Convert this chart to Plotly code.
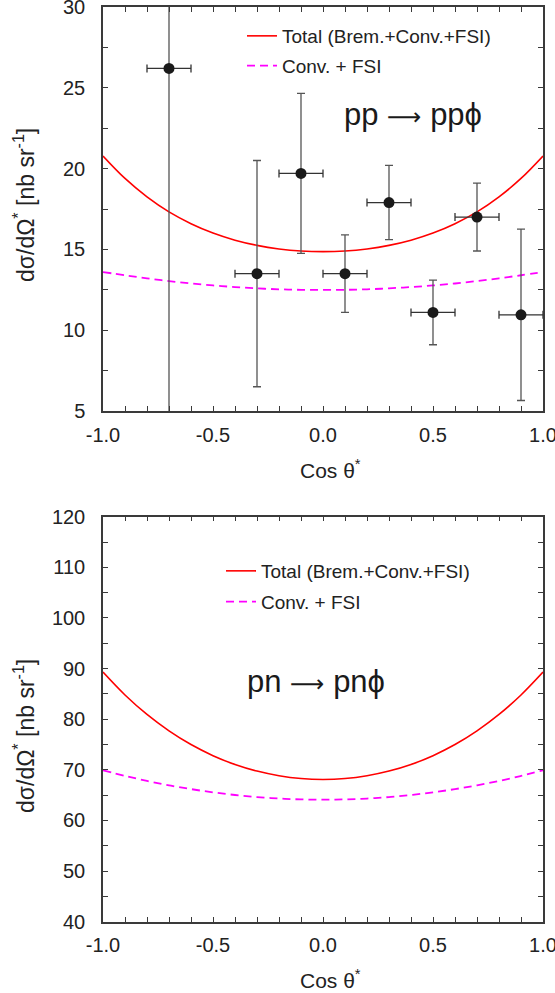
import plotly.graph_objects as go

# ---- data ----
cos_grid = [-1.0, -0.9, -0.8, -0.7, -0.6, -0.5, -0.4, -0.3, -0.2, -0.1, 0.0,
            0.1, 0.2, 0.3, 0.4, 0.5, 0.6, 0.7, 0.8, 0.9, 1.0]

pp_total = [20.78, 19.39, 18.25, 17.32, 16.59, 16.01, 15.57, 15.25, 15.03, 14.90, 14.86,
            14.90, 15.03, 15.25, 15.57, 16.01, 16.59, 17.32, 18.25, 19.39, 20.78]
pp_conv = [13.60, 13.40, 13.21, 13.04, 12.89, 12.77, 12.67, 12.59, 12.53, 12.50, 12.49,
           12.50, 12.53, 12.59, 12.67, 12.77, 12.89, 13.04, 13.21, 13.40, 13.60]

pn_total = [89.30, 84.78, 80.93, 77.69, 74.99, 72.80, 71.06, 69.75, 68.83, 68.28, 68.10,
            68.28, 68.83, 69.75, 71.06, 72.80, 74.99, 77.69, 80.93, 84.78, 89.30]
pn_conv = [69.90, 68.80, 67.81, 66.94, 66.19, 65.55, 65.03, 64.62, 64.33, 64.16, 64.10,
           64.16, 64.33, 64.62, 65.03, 65.55, 66.19, 66.94, 67.81, 68.80, 69.90]

exp_x = [-0.7, -0.3, -0.1, 0.1, 0.3, 0.5, 0.7, 0.9]
exp_y = [26.2, 13.5, 19.7, 13.5, 17.9, 11.1, 17.0, 10.95]
exp_yerr = [25.0, 7.0, 4.95, 2.4, 2.3, 2.0, 2.1, 5.3]
exp_xerr = [0.1, 0.1, 0.1, 0.1, 0.1, 0.1, 0.1, 0.1]

x_tickvals = [-1.0, -0.5, 0.0, 0.5, 1.0]
x_ticktext = ["-1.0", "-0.5", "0.0", "0.5", "1.0"]

legend_names = ["Total (Brem.+Conv.+FSI)", "Conv. + FSI"]

FONT = "Liberation Sans, Arial, sans-serif"
RED = "#ff0000"
MAG = "#ff00ff"
AXC = "#3a3a3a"

fig = go.Figure()

# top panel
fig.add_trace(go.Scatter(x=cos_grid, y=pp_total, mode="lines", name=legend_names[0],
                         line=dict(color=RED, width=1.6, shape="spline"),
                         xaxis="x", yaxis="y", legend="legend", legendgroup="a"))
fig.add_trace(go.Scatter(x=cos_grid, y=pp_conv, mode="lines", name=legend_names[1],
                         line=dict(color=MAG, width=1.8, dash="8px,5px", shape="spline"),
                         xaxis="x", yaxis="y", legend="legend", legendgroup="b"))
fig.add_trace(go.Scatter(x=exp_x, y=exp_y, mode="markers", showlegend=False,
                         marker=dict(color="#1a1a1a", size=11),
                         error_y=dict(type="data", array=exp_yerr, color="#555555",
                                      thickness=1.3, width=4),
                         error_x=dict(type="data", array=exp_xerr, color="#333333",
                                      thickness=1.3, width=4),
                         xaxis="x", yaxis="y"))

# bottom panel
fig.add_trace(go.Scatter(x=cos_grid, y=pn_total, mode="lines", name=legend_names[0],
                         line=dict(color=RED, width=1.6, shape="spline"),
                         xaxis="x2", yaxis="y2", legend="legend2", legendgroup="c"))
fig.add_trace(go.Scatter(x=cos_grid, y=pn_conv, mode="lines", name=legend_names[1],
                         line=dict(color=MAG, width=1.8, dash="8px,5px", shape="spline"),
                         xaxis="x2", yaxis="y2", legend="legend2", legendgroup="d"))

W, H = 555, 993
xdom = [103 / W, 543 / W]
top_dom = [1 - 411 / H, 1 - 7 / H]
bot_dom = [1 - 921.7 / H, 1 - 516.7 / H]

tickfont = dict(family=FONT, size=20, color="#222222")


def xax(domain_anchor):
    return dict(domain=xdom, anchor=domain_anchor, range=[-1, 1],
                tickmode="array", tickvals=x_tickvals, ticktext=x_ticktext,
                ticks="inside", ticklen=5, tickwidth=1.2,
                tickcolor=AXC, showline=True, linecolor=AXC, linewidth=1.5,
                mirror="allticks", showgrid=False, zeroline=False,
                tickfont=tickfont, ticklabelstandoff=5, automargin=False,
                ticklabeloverflow="allow",
                minor=dict(dtick=0.1, tick0=0, ticks="inside", ticklen=5, tickwidth=1.2,
                           tickcolor=AXC, showgrid=False))


def yax(domain, rng, dtick, mdtick, anchor):
    return dict(domain=domain, anchor=anchor, range=rng, dtick=dtick,
                ticks="inside", ticklen=5, tickwidth=1.2, tickcolor=AXC,
                showline=True, linecolor=AXC, linewidth=1.5, mirror="allticks",
                showgrid=False, zeroline=False, tickfont=tickfont,
                ticklabelstandoff=12, automargin=False, ticklabeloverflow="allow",
                minor=dict(dtick=mdtick, ticks="inside", ticklen=5, tickwidth=1.2,
                           tickcolor=AXC, showgrid=False))


legfont = dict(family=FONT, size=19, color="#222222")

fig.update_layout(
    width=W, height=H, margin=dict(l=0, r=0, t=0, b=0),
    paper_bgcolor="white", plot_bgcolor="white",
    xaxis=xax("y"), yaxis=yax(top_dom, [5, 30], 5, 2.5, "x"),
    xaxis2=xax("y2"), yaxis2=yax(bot_dom, [40, 120], 10, 5, "x2"),
    legend=dict(x=242 / W, y=1 - 17 / H, xanchor="left", yanchor="top",
                bgcolor="rgba(0,0,0,0)", font=legfont, tracegroupgap=2),
    legend2=dict(x=221 / W, y=1 - 552 / H, xanchor="left", yanchor="top",
                 bgcolor="rgba(0,0,0,0)", font=legfont, tracegroupgap=3),
    showlegend=True,
)

ytitle = "dσ/dΩ<sup>*</sup> [nb sr<sup>-1</sup>]"
xtitle = "Cos θ<sup>*</sup>"
tfont = dict(family=FONT, size=23, color="#222222")
xtfont = dict(family=FONT, size=21, color="#222222")

fig.add_annotation(text=ytitle, x=24 / W, y=1 - 205 / H, xref="paper", yref="paper",
                   textangle=-90, showarrow=False, font=tfont,
                   xanchor="center", yanchor="middle")
fig.add_annotation(text=ytitle, x=24 / W, y=1 - 736 / H, xref="paper", yref="paper",
                   textangle=-90, showarrow=False, font=tfont,
                   xanchor="center", yanchor="middle")
fig.add_annotation(text=xtitle, x=330 / W, y=1 - 469 / H, xref="paper", yref="paper",
                   showarrow=False, font=xtfont, xanchor="center", yanchor="middle")
fig.add_annotation(text=xtitle, x=330 / W, y=1 - 979 / H, xref="paper", yref="paper",
                   showarrow=False, font=xtfont, xanchor="center", yanchor="middle")

bigfont = dict(family=FONT, size=31, color="#1a1a1a")
arrow = "<span style='font-family:DejaVu Sans;font-size:24px'>⟶</span>"
fig.add_annotation(text="pp " + arrow + " ppϕ", x=413 / W, y=1 - 115 / H,
                   xref="paper", yref="paper",
                   showarrow=False, font=bigfont, xanchor="center", yanchor="middle")
fig.add_annotation(text="pn " + arrow + " pnϕ", x=316 / W, y=1 - 681 / H,
                   xref="paper", yref="paper",
                   showarrow=False, font=bigfont, xanchor="center", yanchor="middle")

fig.write_html("out.html")
